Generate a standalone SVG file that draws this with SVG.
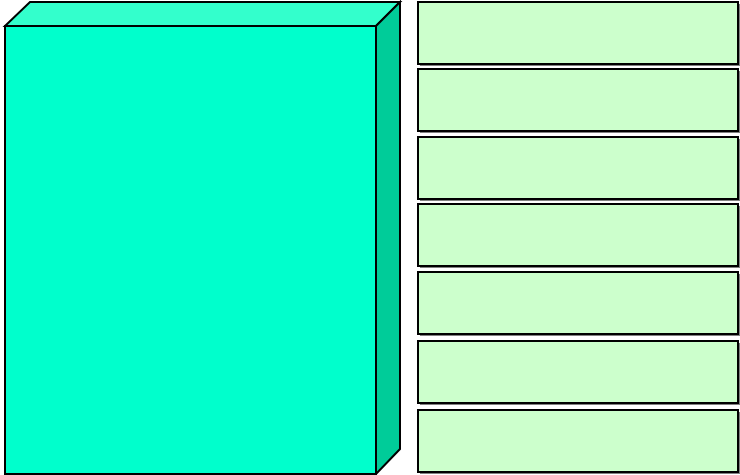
<svg xmlns="http://www.w3.org/2000/svg" width="740" height="475" viewBox="0 0 740 475">
<style>
.f{stroke:#000;stroke-width:2;stroke-linejoin:miter}
.c{fill:#CCFFCC;stroke:#000;stroke-width:2}
.s{fill:#808080}
</style>
<rect width="740" height="475" fill="#fff"/>
<g id="box3d">
<polygon class="f" fill="#33FFCC" points="5,26 30,2 400,2 376,26"/>
<polygon class="f" fill="#00CC99" points="376,26 400,2 400,449 376,474"/>
<rect class="f" fill="#00FFCC" x="5" y="26" width="371" height="448"/>
</g>
<g id="cell1"><rect class="s" x="420" y="4" width="320" height="62"/><rect class="c" x="418" y="2" width="320" height="62"/></g>
<g id="cell2"><rect class="s" x="420" y="71" width="320" height="62"/><rect class="c" x="418" y="69" width="320" height="62"/></g>
<g id="cell3"><rect class="s" x="420" y="139" width="320" height="62"/><rect class="c" x="418" y="137" width="320" height="62"/></g>
<g id="cell4"><rect class="s" x="420" y="206" width="320" height="62"/><rect class="c" x="418" y="204" width="320" height="62"/></g>
<g id="cell5"><rect class="s" x="420" y="274" width="320" height="62"/><rect class="c" x="418" y="272" width="320" height="62"/></g>
<g id="cell6"><rect class="s" x="420" y="343" width="320" height="62"/><rect class="c" x="418" y="341" width="320" height="62"/></g>
<g id="cell7"><rect class="s" x="420" y="412" width="320" height="62"/><rect class="c" x="418" y="410" width="320" height="62"/></g>
<g id="connectors"></g>
</svg>
